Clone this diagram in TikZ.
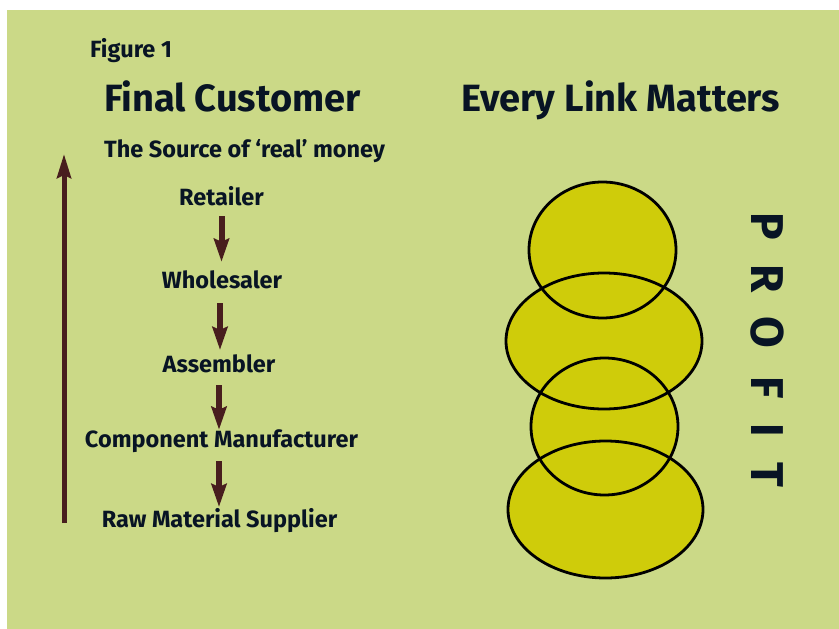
\documentclass[tikz,border=0pt]{standalone}
\usepackage{fontspec}
\setmainfont{Fira Sans}
\usetikzlibrary{arrows.meta}
\definecolor{bgc}{RGB}{203,217,135}
\definecolor{ellc}{RGB}{207,204,10}
\definecolor{txtc}{RGB}{8,20,36}
\definecolor{arrc}{RGB}{72,30,30}
\tikzset{
  lbl/.style={inner sep=0pt, text=txtc, font=\bfseries\fontsize{23.5}{23.5}\selectfont, text height=15pt, text depth=0pt},
  ttl/.style={inner sep=0pt, text=txtc, font=\bfseries\fontsize{38}{38}\selectfont},
  prof/.style={inner sep=0pt, text=txtc, font=\bfseries\fontsize{46}{46}\selectfont, rotate=-90},
  darr/.style={draw=arrc, line width=6pt, -{Stealth[length=23pt,width=15pt,inset=3pt]}},
  oval/.style={line width=2.8pt, draw=black},
}
\begin{document}
\begin{tikzpicture}[x=1pt,y=-1pt]
\useasboundingbox (0,0) rectangle (839,629);
\fill[bgc] (7,10) rectangle (839,629);

% titles
\node[lbl, anchor=base west] (fig) at (90,57) {Figure 1};
\node[ttl, anchor=base west] (fc) at (104,111) {Final Customer};
\node[ttl, anchor=base west] (elm) at (461,111) {Every Link Matters};
\node[lbl, anchor=base west] (src) at (104,157) {The Source of ‘real’ money};

% chain
\node[lbl, anchor=base] (ret) at (221.5,205) {Retailer};
\node[lbl, anchor=base] (who) at (222,288) {Wholesaler};
\node[lbl, anchor=base] (ass) at (219,372) {Assembler};
\node[lbl, anchor=base] (comp) at (221.5,447) {Component Manufacturer};
\node[lbl, anchor=base] (raw) at (219.5,527) {Raw Material Supplier};

\draw[darr, shorten <=11pt, shorten >=11pt] (ret.south) -- (ret.south |- who.north);
\draw[darr, shorten <=15pt, shorten >=7pt] (220,288) -- (220,357);
\draw[darr, shorten <=13pt, shorten >=2pt] (ass.south) -- (ass.south |- comp.north);
\draw[darr, shorten <=14pt, shorten >=5pt] (219,447) -- (219,512);

% big arrow
\coordinate (bbot) at (64,523);
\coordinate (btop) at (64,154);
\draw[draw=arrc, line width=5pt, -{Stealth[length=24pt,width=14pt,inset=3pt]}] (bbot) -- (btop);

% ovals
\fill[ellc] (602.5,250) ellipse [x radius=73.5, y radius=68];
\fill[ellc] (604,341) ellipse [x radius=98, y radius=68];
\fill[ellc] (604.5,426.5) ellipse [x radius=73.5, y radius=68.5];
\fill[ellc] (605.5,509.5) ellipse [x radius=97.5, y radius=68.5];
\draw[oval] (602.5,250) ellipse [x radius=73.5, y radius=68];
\draw[oval] (604,341) ellipse [x radius=98, y radius=68];
\draw[oval] (604.5,426.5) ellipse [x radius=73.5, y radius=68.5];
\draw[oval] (605.5,509.5) ellipse [x radius=97.5, y radius=68.5];

% PROFIT
\node[prof] (p1) at (767,226) {P};
\node[prof] (p2) at (767,279) {R};
\node[prof] (p3) at (767,332) {O};
\node[prof] (p4) at (767,388) {F};
\node[prof] (p5) at (767,430) {I};
\node[prof] (p6) at (767,475) {T};
\end{tikzpicture}
\end{document}
